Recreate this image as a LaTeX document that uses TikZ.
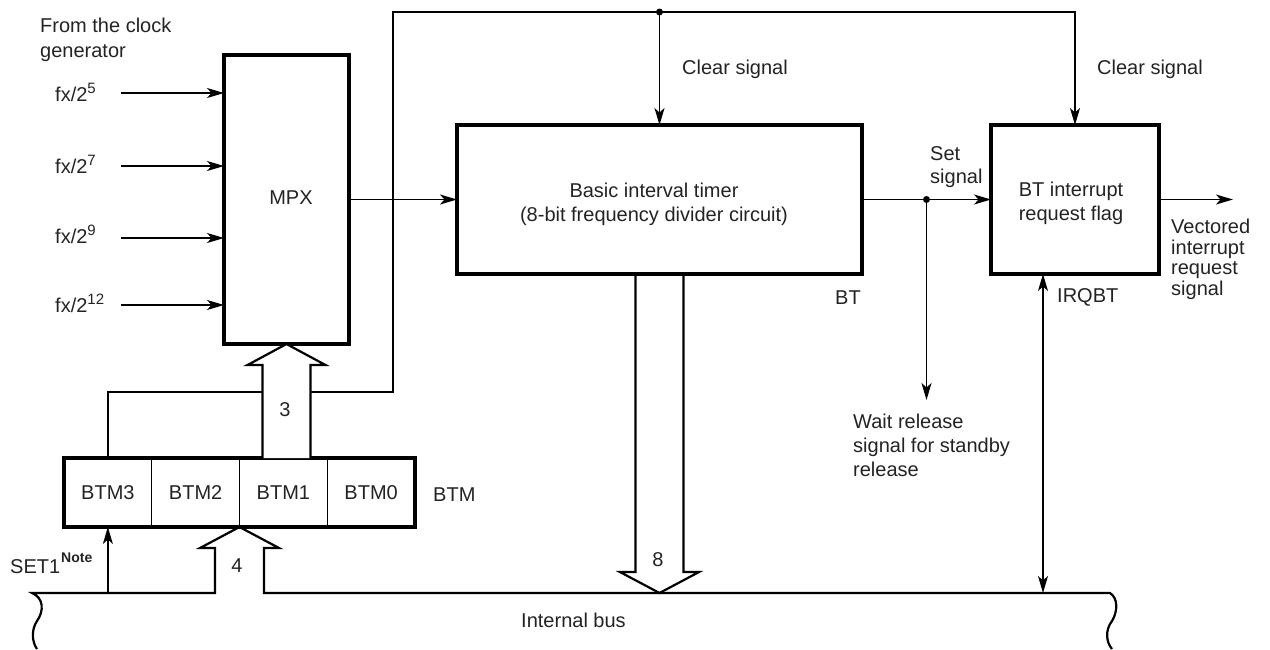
\documentclass[tikz,border=0pt]{standalone}
\usepackage{fontspec}
\setmainfont{Liberation Sans}
\usetikzlibrary{arrows.meta,calc}
\definecolor{txt}{RGB}{35,35,35}
\newcommand{\supx}[1]{\raisebox{7.5pt}{\fontsize{15}{15}\selectfont #1}}
\begin{document}
\begin{tikzpicture}[x=1pt,y=-1pt,
  every node/.style={font=\fontsize{20}{24}\selectfont, text=txt, inner sep=0pt},
  box/.style={draw=black, line width=3.2pt, anchor=north west, outer sep=0pt},
  cell/.style={draw=black, line width=1.2pt, minimum width=87.75pt, minimum height=69pt, anchor=north west, outer sep=0pt},
  ln/.style={line width=1.3pt},
  arr/.style={ln, -{Stealth[length=17pt,width=10pt,inset=4.5pt]}},
  darr/.style={ln, {Stealth[length=17pt,width=10pt,inset=4.5pt]}-{Stealth[length=17pt,width=10pt,inset=4.5pt]}},
  wide/.style={draw=black, line width=2.2pt, line join=miter},
  busline/.style={draw=black, line width=2.2pt},
  jdot/.style={circle, fill=black, minimum size=7pt, inner sep=0pt}
]
\useasboundingbox (0,0) rectangle (1270,649);

% boxes
\node[box, minimum width=125pt, minimum height=289pt] (mpx) at (224,55) {};
\node (mpxt) at (291,198) {MPX};
\node[box, minimum width=405pt, minimum height=149pt] (bt) at (457,125) {};
\node[align=center] (btt) at (654,204) {Basic interval timer\\(8-bit frequency divider circuit)};
\node[box, minimum width=168pt, minimum height=149pt] (flag) at (991,125) {};
\node[align=center] (flagt) at (1071,203) {BT interrupt\\request flag};

% register cells
\node[cell] (c3) at (64,458) {BTM3};
\node[cell] (c2) at (c3.north east) {BTM2};
\node[cell] (c1) at (c2.north east) {BTM1};
\node[cell] (c0) at (c1.north east) {BTM0};
\draw[line width=3.2pt] (c3.north west) rectangle (c0.south east);
\node[anchor=west] (btm) at (433,495) {BTM};

% clock inputs
\node[anchor=west, align=left, font=\fontsize{20}{25}\selectfont] (clk) at (40,39.5) {From the clock\\generator};
\node[anchor=base west] (f5) at (55,101) {fx/2\supx{5}};
\node[anchor=base west] (f7) at (55,173) {fx/2\supx{7}};
\node[anchor=base west] (f9) at (55,243) {fx/2\supx{9}};
\node[anchor=base west] (f12) at (55,312) {fx/2\supx{12}};
\coordinate (i5) at (121,93);
\coordinate (i7) at (121,166);
\coordinate (i9) at (121,238);
\coordinate (i12) at (121,305);
\draw[arr] (i5) -- (i5 -| mpx.west);
\draw[arr] (i7) -- (i7 -| mpx.west);
\draw[arr] (i9) -- (i9 -| mpx.west);
\draw[arr] (i12) -- (i12 -| mpx.west);

% clear line
\coordinate (k) at (393,392);
\coordinate (ktop) at (393,12);
\coordinate (j) at (bt.north |- ktop);
\draw[ln] (c3.north) |- (k) -- (ktop) -- (j);
\draw[arr] (j) -| (flag.north);
\draw[arr] (j) -- (bt.north);
\node[jdot] (jd) at (j) {};
\node[anchor=west] (clr1) at (682,69.5) {Clear signal};
\node[anchor=west] (clr2) at (1097,69.5) {Clear signal};

% MPX -> BT
\draw[arr] (mpx.east) -- (bt.west);

% wide arrow 3
\draw[wide, fill=white] ($(mpx.south |- c1.north)+(-24,0)$) -- ($(mpx.south)+(-24,21)$) -- ($(mpx.south)+(-39,21)$) -- (mpx.south) -- ($(mpx.south)+(39,21)$) -- ($(mpx.south)+(24,21)$) -- ($(mpx.south |- c1.north)+(24,0)$);
\node (n3) at (285,410) {3};

% set signal
\coordinate (s) at ($(bt.east)!0.5!(flag.west)$);
\draw[arr] (bt.east) -- (flag.west);
\node[jdot] (sd) at (s) {};
\node[anchor=west, align=left, font=\fontsize{20}{23}\selectfont] (setl) at (930,167) {Set\\signal};
\coordinate (wtip) at (s |- 0,400);
\draw[arr] (s) -- (wtip);
\node[anchor=west, align=left] (wait) at (853,445.5) {Wait release\\signal for standby\\release};

% output
\coordinate (vout) at (1233,199.5);
\draw[arr] (flag.east) -- (vout);
\node[anchor=west, align=left, font=\fontsize{20}{20.5}\selectfont] (vec) at (1171,259.5) {Vectored\\interrupt\\request\\signal};

\node (btl) at (848,297.5) {BT};
\node[anchor=west] (irql) at (1057,297.5) {IRQBT};

% bus
\coordinate (busL) at (32,593);
\coordinate (busR) at (1110,593);
\coordinate (T4) at (c1.south west);
\draw[busline] (37,649) .. controls (32,642) and (31,630) .. (37,621) .. controls (44,611) and (44,598) .. (busL)
  -- ($(T4 |- busL)+(-24.5,0)$) -- ($(T4)+(-24.5,21)$) -- ($(T4)+(-39.5,21)$) -- (T4) -- ($(T4)+(39.5,21)$) -- ($(T4)+(24.5,21)$) -- ($(T4 |- busL)+(24.5,0)$)
  -- (busR) .. controls (1118,598) and (1118,611) .. (1112,621) .. controls (1105,630) and (1106,642) .. (1112,649);
\node (n4) at (237,566) {4};

% wide arrow 8
\coordinate (T8) at (bt.south |- busL);
\draw[wide] ($(bt.south)+(-24,0)$) -- ($(T8)+(-24,-21)$) -- ($(T8)+(-39.5,-21)$) -- (T8) -- ($(T8)+(39.5,-21)$) -- ($(T8)+(24,-21)$) -- ($(bt.south)+(24,0)$);
\node (n8) at (658,560) {8};

% SET1
\draw[arr] (c3.south |- busL) -- (c3.south);
\node[anchor=west] (set1) at (10,566.5) {SET1};
\node[anchor=west, font=\fontsize{14}{16}\selectfont\bfseries] (note) at (61,558) {Note};

% IRQBT
\coordinate (irq) at ($(flag.south west)+(52,0)$);
\draw[darr] (irq |- busL) -- (irq);

\node (ib) at (573.5,620) {Internal bus};
\end{tikzpicture}
\end{document}
